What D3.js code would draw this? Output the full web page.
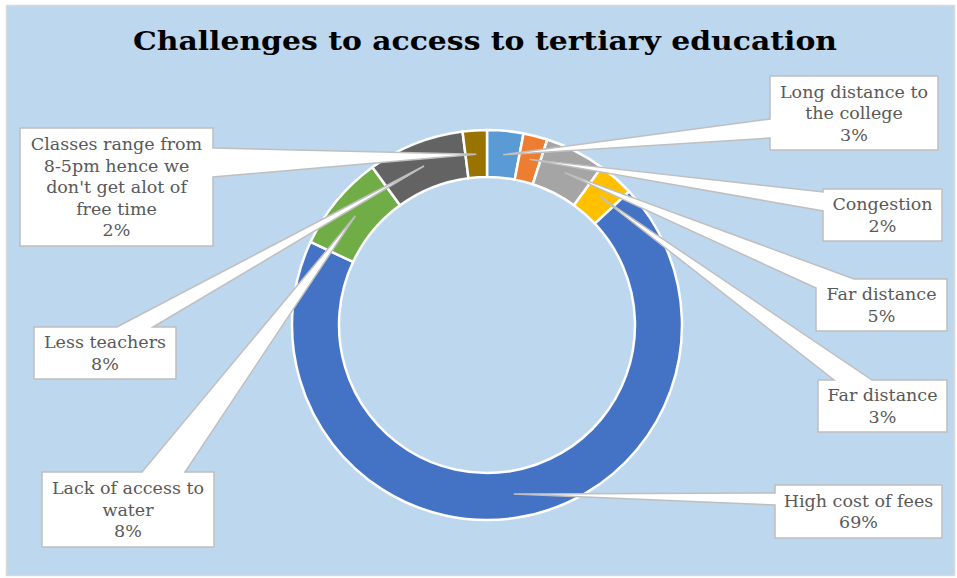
<!DOCTYPE html>
<html>
<head>
<meta charset="utf-8">
<script src="https://cdn.jsdelivr.net/npm/d3@7"></script>
<style>
  html, body { margin: 0; padding: 0; background: #ffffff; }
  svg { display: block; }
</style>
</head>
<body>
<svg id="chart" width="957" height="578"></svg>
<script>
// Survey responses: challenges to access to tertiary education (share of respondents, %)
const categories = [
  "Long distance to the college",
  "Congestion",
  "Far distance",
  "Far distance",
  "High cost of fees",
  "Lack of access to water",
  "Less teachers",
  "Classes range from 8-5pm hence we don't get alot of free time"
];
const values = [3, 2, 5, 3, 69, 8, 8, 2];
const sliceColors = ["#5b9bd5", "#ed7d31", "#a5a5a5", "#ffc000", "#4472c4", "#70ad47", "#636363", "#997300"];

// Wrapped label text for each callout (category name split into lines)
const labelLines = [
  ["Long distance to", "the college"],
  ["Congestion"],
  ["Far distance"],
  ["Far distance"],
  ["High cost of fees"],
  ["Lack of access to", "water"],
  ["Less teachers"],
  ["Classes range from", "8-5pm hence we", "don't get alot of", "free time"]
];

// Callout box placement: box bounds and where the pointer leaves the box
const calloutLayout = [
  { x0: 770, y0: 76,  x1: 938, y1: 150, side: "left",  s0: 119, s1: 138 },
  { x0: 823, y0: 189, x1: 942, y1: 241, side: "left",  s0: 192, s1: 211 },
  { x0: 816, y0: 279, x1: 947, y1: 331, side: "tl",    s0: 288, s1: 854 },
  { x0: 818, y0: 380, x1: 947, y1: 432, side: "top",   s0: 834, s1: 872 },
  { x0: 775, y0: 485, x1: 942, y1: 538, side: "left",  s0: 493, s1: 505 },
  { x0: 42,  y0: 472, x1: 214, y1: 547, side: "top",   s0: 142, s1: 185 },
  { x0: 34,  y0: 327, x1: 176, y1: 379, side: "top",   s0: 117, s1: 153 },
  { x0: 20,  y0: 128, x1: 213, y1: 246, side: "right", s0: 148, s1: 177 }
];

const W = 957, H = 578;
const cx = 487, cy = 325;
const rOuter = 195, rInner = 148;
const FONT = "'DejaVu Serif', 'Liberation Serif', serif";

const svg = d3.select("#chart");

// Chart area background and frame
svg.append("rect").attr("x", 0).attr("y", 0).attr("width", W).attr("height", H).attr("fill", "#ffffff");
svg.append("rect")
  .attr("x", 6.5).attr("y", 5.5).attr("width", W - 9).attr("height", H - 8)
  .attr("fill", "#bdd7ee").attr("stroke", "#d9d9d9").attr("stroke-width", 1.5);

// Title (wide bold serif)
svg.append("text")
  .attr("x", 485).attr("y", 50)
  .attr("text-anchor", "middle")
  .attr("font-family", FONT)
  .attr("font-weight", "bold")
  .attr("font-size", 25.5)
  .attr("textLength", 704)
  .attr("lengthAdjust", "spacingAndGlyphs")
  .attr("fill", "#000000")
  .text("Challenges to access to tertiary education");

// Donut
const pie = d3.pie().sort(null).value(d => d)(values);
const arc = d3.arc().innerRadius(rInner).outerRadius(rOuter);
const tipArc = d3.arc().innerRadius((rInner + rOuter) / 2 - 0.5).outerRadius((rInner + rOuter) / 2 - 0.5);

const g = svg.append("g").attr("transform", `translate(${cx},${cy})`);
g.selectAll("path.slice")
  .data(pie)
  .join("path")
  .attr("class", "slice")
  .attr("d", arc)
  .attr("fill", (d, i) => sliceColors[i])
  .attr("stroke", "#ffffff")
  .attr("stroke-width", 2.5)
  .attr("stroke-linejoin", "round");

// Callout shape: rectangle with a wedge pointer spliced into one side
function calloutPath(b, tip) {
  const { x0, y0, x1, y1, side, s0, s1 } = b;
  const pts = [];
  if (side === "tl") {
    pts.push([x0, s0], tip, [s1, y0]);
  } else {
    pts.push([x0, y0]);
  }
  if (side === "top") pts.push([s0, y0], tip, [s1, y0]);
  pts.push([x1, y0]);
  if (side === "right") pts.push([x1, s0], tip, [x1, s1]);
  pts.push([x1, y1]);
  if (side === "bottom") pts.push([s1, y1], tip, [s0, y1]);
  pts.push([x0, y1]);
  if (side === "left") pts.push([x0, s1], tip, [x0, s0]);
  return "M" + pts.map(p => p[0] + "," + p[1]).join("L") + "Z";
}

const callouts = svg.append("g");
pie.forEach((d, i) => {
  const c = tipArc.centroid(d);
  const tip = [cx + c[0], cy + c[1]];
  const b = calloutLayout[i];
  callouts.append("path")
    .attr("d", calloutPath(b, tip))
    .attr("fill", "#ffffff")
    .attr("stroke", "#bfbfbf")
    .attr("stroke-width", 1.5)
    .attr("stroke-linejoin", "miter");
});

// Callout text: category lines plus percentage
const lineH = 21.5;
pie.forEach((d, i) => {
  const b = calloutLayout[i];
  const lines = labelLines[i].concat([d.data + "%"]);
  const midX = (b.x0 + b.x1) / 2;
  const midY = (b.y0 + b.y1) / 2;
  const firstY = midY - (lines.length - 1) * lineH / 2;
  const t = svg.append("text")
    .attr("font-family", FONT)
    .attr("font-size", 17.5)
    .attr("fill", "#595959")
    .attr("text-anchor", "middle");
  lines.forEach((ln, k) => {
    t.append("tspan")
      .attr("x", midX)
      .attr("y", firstY + k * lineH)
      .attr("dy", "0.35em")
      .text(ln);
  });
});
</script>
</body>
</html>
